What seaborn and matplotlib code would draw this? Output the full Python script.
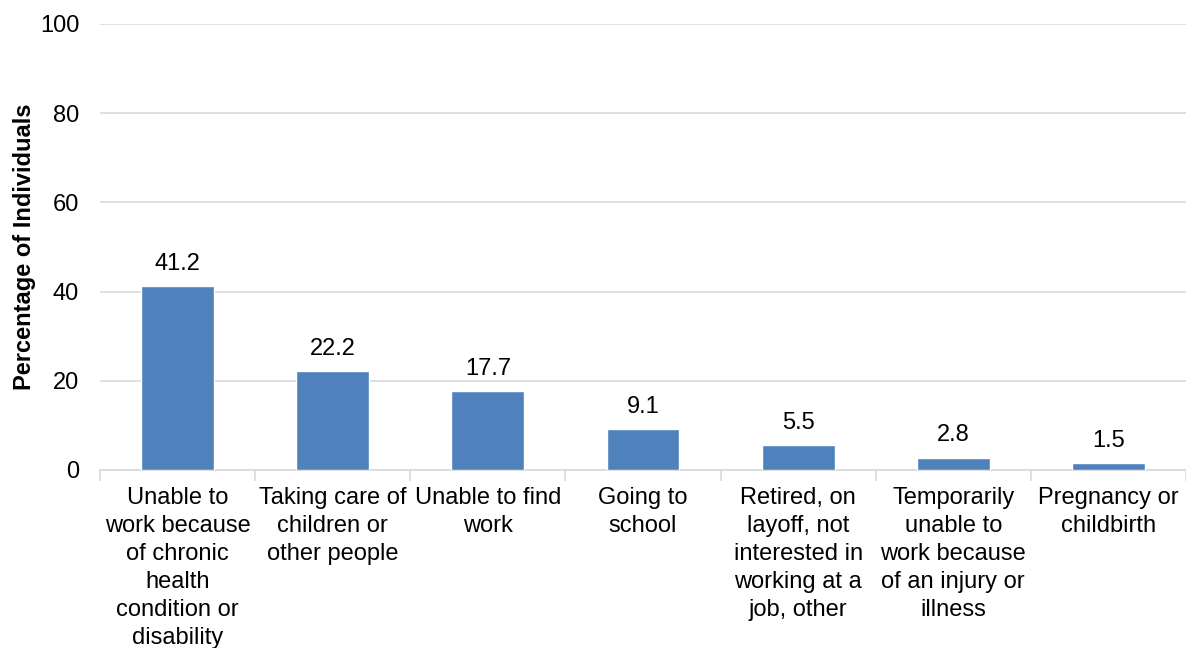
import matplotlib
matplotlib.use("Agg")
import matplotlib.pyplot as plt
import seaborn as sns
import pandas as pd
import numpy as np

categories = [
    "Unable to\nwork because\nof chronic\nhealth\ncondition or\ndisability",
    "Taking care of\nchildren or\nother people",
    "Unable to find\nwork",
    "Going to\nschool",
    "Retired, on\nlayoff, not\ninterested in\nworking at a\njob, other",
    "Temporarily\nunable to\nwork because\nof an injury or\nillness",
    "Pregnancy or\nchildbirth",
]
values = [41.2, 22.2, 17.7, 9.1, 5.5, 2.8, 1.5]
yticks = [0, 20, 40, 60, 80, 100]

sns.set_theme(style="white")
plt.rcParams["font.family"] = ["Liberation Sans", "DejaVu Sans"]

df = pd.DataFrame({"cat": categories, "val": values})
fig = plt.figure(figsize=(11.86, 6.48), dpi=100)
ax = fig.add_axes([100/1186, 1-470/648, 1086/1186, (470-24)/648])

sns.barplot(data=df, x="cat", y="val", color="#4f81bd", saturation=1, width=0.47, ax=ax, zorder=3)

ax.set_ylim(0, 100)
ax.set_xlim(-0.5, len(categories) - 0.5)
ax.set_yticks(yticks)
ax.set_yticklabels([str(t) for t in yticks], fontsize=17, color="#000000")
ax.yaxis.grid(True, color="#d9d9d9", linewidth=1.2, zorder=0)
ax.set_axisbelow(True)
for s in ["top", "right", "left"]:
    ax.spines[s].set_visible(False)
ax.spines["bottom"].set_color("#d9d9d9")
ax.spines["bottom"].set_linewidth(1.2)

ax.set_xticks(range(len(categories)))
ax.set_xticklabels(categories, fontsize=17, color="#000000", linespacing=1.36)
ax.tick_params(axis="x", which="major", length=0, pad=12)
ax.tick_params(axis="y", length=0, pad=15)
ax.set_xticks(np.arange(-0.5, len(categories), 1.0), minor=True)
ax.tick_params(axis="x", which="minor", length=8, color="#d9d9d9", width=1.2, bottom=True)

ax.set_xlabel("")
ax.set_ylabel("Percentage of Individuals", fontsize=17, fontweight="bold", labelpad=3, color="#000000")

for i, v in enumerate(values):
    ax.text(i, v + 2.5, f"{v:.1f}", ha="center", va="bottom", fontsize=17, color="#000000")

fig.savefig("out.png", dpi=100)
